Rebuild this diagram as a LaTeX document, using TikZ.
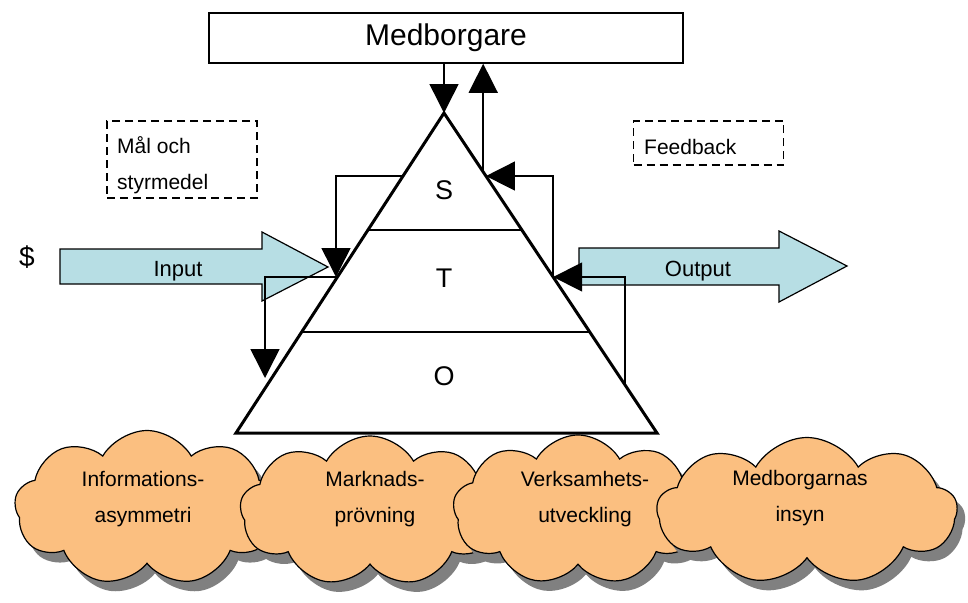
\documentclass[tikz,border=0pt]{standalone}
\usepackage{fontspec}
\setmainfont{Liberation Sans}
\usetikzlibrary{arrows.meta,calc,shapes.symbols,shadows}
\definecolor{ljusbla}{RGB}{183,222,228}
\definecolor{molnfarg}{RGB}{251,191,128}
\definecolor{skugga}{RGB}{128,128,128}
\tikzset{
  pil/.style={line width=1.5pt,-{Triangle[length=29pt,width=29pt]}},
  streck/.style={draw,dashed,dash pattern=on 8pt off 5pt,line width=1.5pt},
  blockpil/.style={draw,line width=1.2pt,fill=ljusbla},
  moln/.style={cloud,cloud puffs=9,cloud puff arc=120,draw,line width=1.2pt,fill=molnfarg,
    drop shadow={shadow xshift=8pt,shadow yshift=-10pt,fill=skugga,opacity=1}},
  molntext/.style={align=center,font=\fontsize{21}{36}\selectfont}
}
\begin{document}
\begin{tikzpicture}[x=1pt,y=-1pt]
    \useasboundingbox (0,0) rectangle (968,602);
    % in- och utflode
    \draw[blockpil] (60,249)--(262,249)--(262,232)--(328,267)--(262,301)--(262,284)--(60,284)--cycle;
    \draw[blockpil] (579,248)--(779,248)--(779,231)--(847,266)--(779,302)--(779,285)--(579,285)--cycle;
    \node[font=\fontsize{22}{26}\selectfont] (in) at (178,271) {Input};
    \node[font=\fontsize{22}{26}\selectfont] (ut) at (698,271) {Output};
    \node[font=\fontsize{28}{32}\selectfont] (dollar) at (27,257) {\$};
    % medborgare
    \node[draw,line width=1.5pt,minimum width=474pt,minimum height=50pt,font=\fontsize{30}{34}\selectfont] (med) at (446,38) {Medborgare};
    % triangeln
    \coordinate (topp) at (444,113);
    \coordinate (vh) at (236,433);
    \coordinate (hh) at (657,433);
    \draw[line width=3pt] (topp)--(vh)--(hh)--cycle;
    \draw[line width=1.5pt] ($(topp)!0.366!(vh)$)--($(topp)!0.366!(hh)$);
    \draw[line width=1.5pt] ($(topp)!0.684!(vh)$)--($(topp)!0.684!(hh)$);
    \node[font=\fontsize{27}{32}\selectfont] (S) at (444,190) {S};
    \node[font=\fontsize{27}{32}\selectfont] (T) at (444,278) {T};
    \node[font=\fontsize{27}{32}\selectfont] (O) at (444,376) {O};
    % styrning och aterkoppling
    \coordinate (s1) at ($(topp)!0.184!(hh)$);
    \coordinate (s2) at ($(topp)!0.197!(hh)$);
    \coordinate (t2) at ($(topp)!0.5125!(hh)$);
    \coordinate (o2) at ($(topp)!0.85!(hh)$);
    \coordinate (s3) at ($(topp)!0.197!(vh)$);
    \coordinate (vT) at (336,277);
    \coordinate (vO) at (265,378);
    \draw[pil] (med.south -| topp)--(topp);
    \draw[pil] (s1)--(s1 |- med.south);
    \draw[pil] (t2) |- (s2);
    \draw[pil] (o2) |- (t2);
    \draw[pil] (s3) -| (vT);
    \draw[pil] (vT) -| (vO);
    \node[streck,minimum width=150pt,minimum height=77pt] (mal) at (182,159.5) {};
    \node[anchor=west,inner sep=0pt,align=left,font=\fontsize{21}{36}\selectfont] (malt) at (117,165) {Mål och\\styrmedel};
    \node[streck,minimum width=150pt,minimum height=44pt] (fb) at (708.5,143) {};
    \node[anchor=west,inner sep=0pt,font=\fontsize{21}{26}\selectfont] (fbt) at (644,147) {Feedback};
    % molnen
    \node[moln,minimum width=265pt,minimum height=155pt] (m1) at (147,508) {};
    \node[molntext] (m1t) at (143,499) {Informations-\\asymmetri};
    \node[moln,minimum width=260pt,minimum height=150pt] (m2) at (370,511) {};
    \node[molntext] (m2t) at (375,499) {Marknads-\\prövning};
    \node[moln,minimum width=250pt,minimum height=150pt] (m3) at (578,510) {};
    \node[molntext] (m3t) at (585,499) {Verksamhets-\\utveckling};
    \node[moln,minimum width=300pt,minimum height=147pt] (m4) at (807,511) {};
    \node[molntext] (m4t) at (800,498) {Medborgarnas\\insyn};
\end{tikzpicture}
\end{document}
